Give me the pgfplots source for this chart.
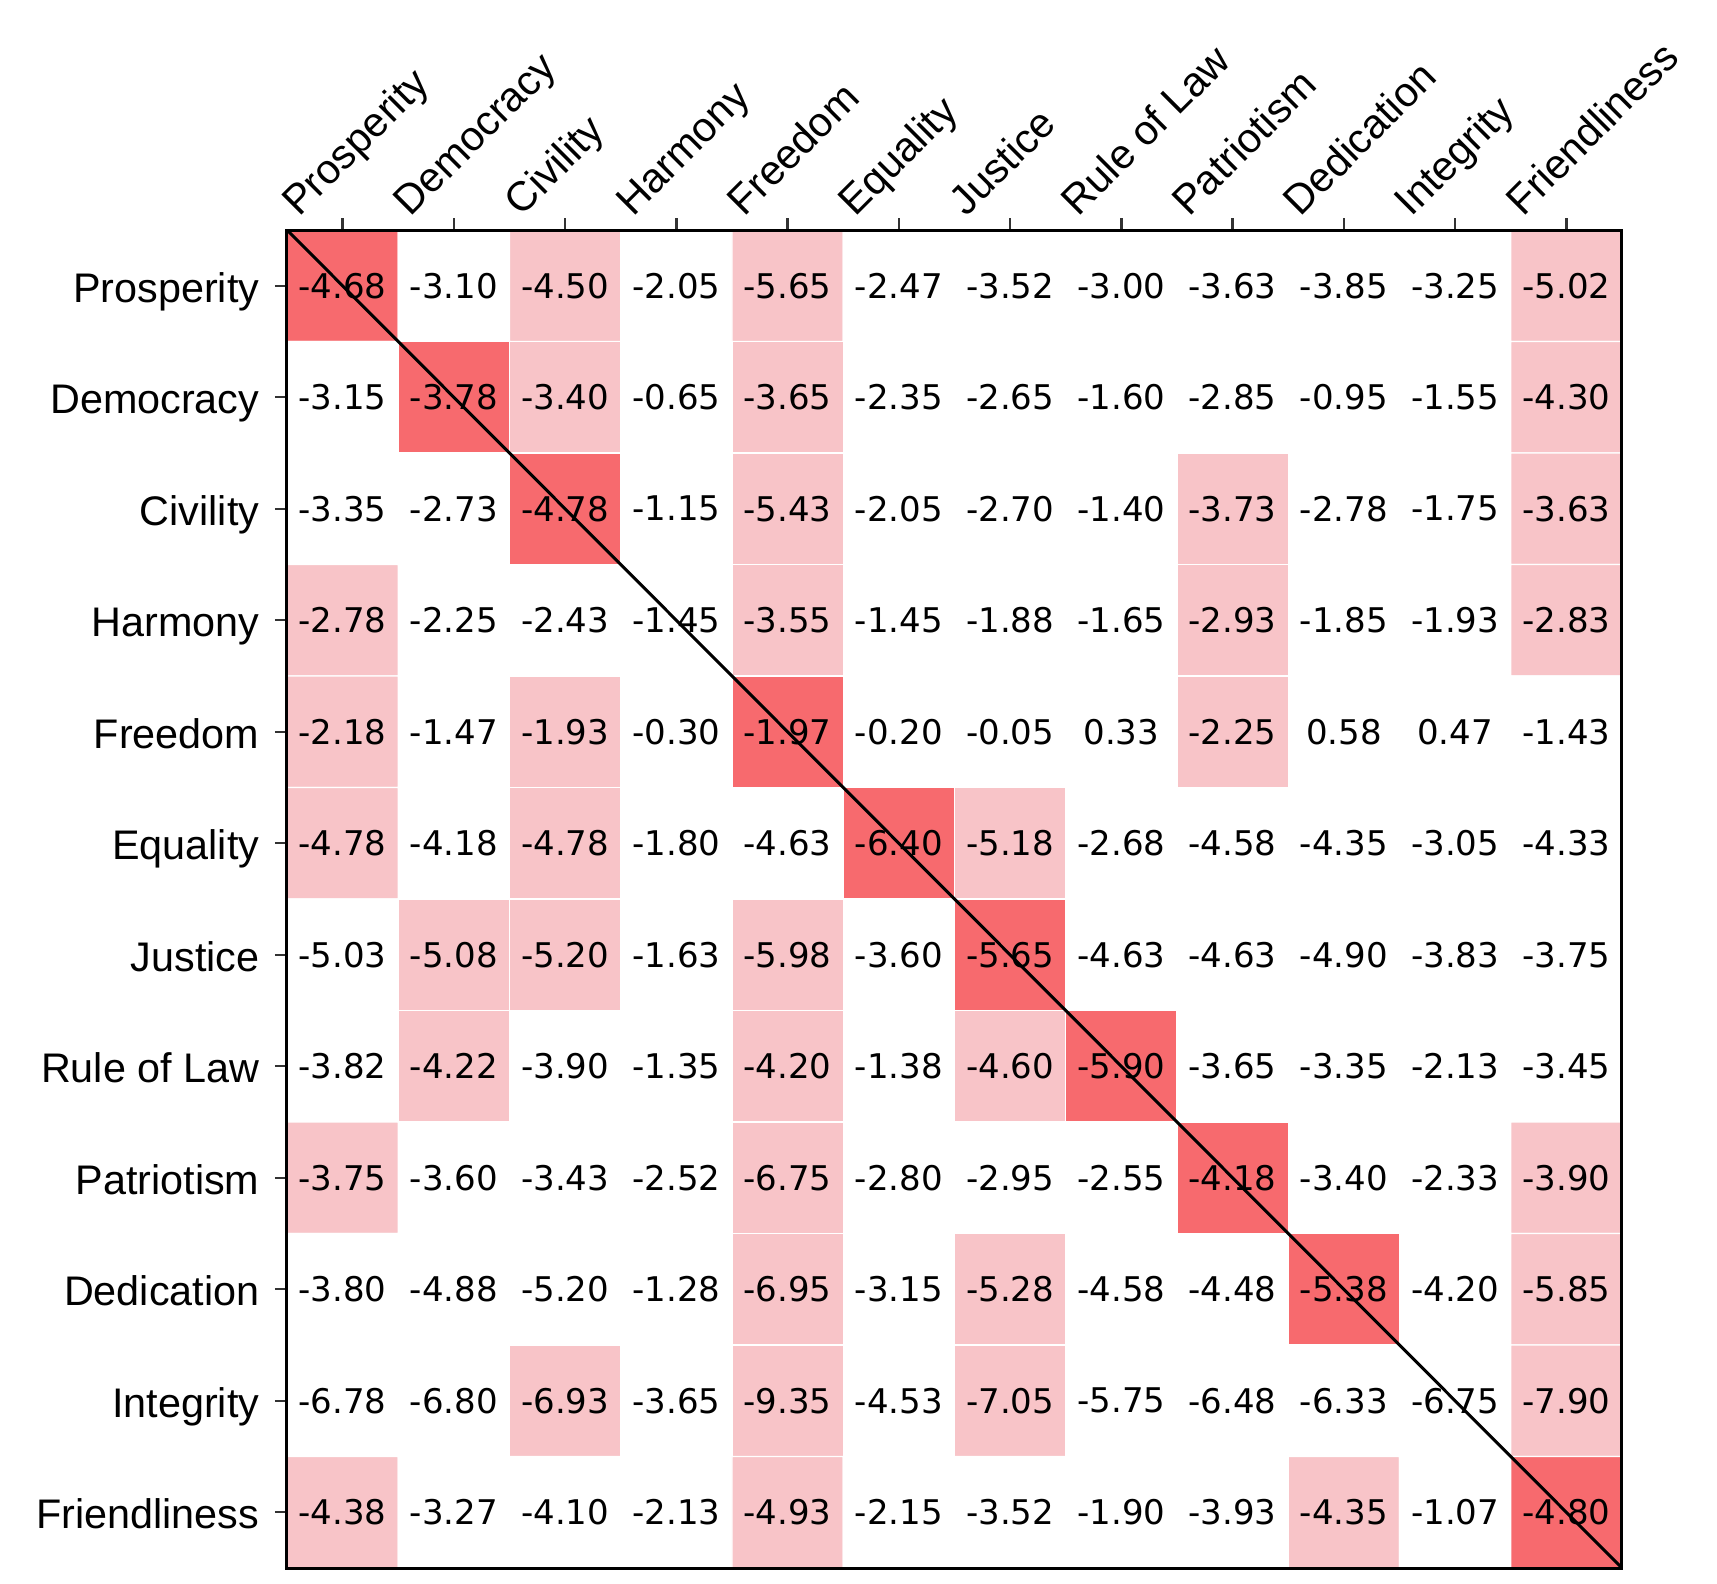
\documentclass[border=0pt]{standalone}
\usepackage{pgfplots}
\usepackage{pgfplotstable}
\pgfplotsset{compat=1.18}
\usepackage{fontspec}
\setmainfont{Liberation Sans}
\newfontfamily\valfont{DejaVu Sans}
\definecolor{hmred}{RGB}{247,106,110}
\definecolor{hmpink}{RGB}{248,196,200}

\pgfplotstableread{
x y c v
0 0 2 -4.68
1 0 0 -3.10
2 0 1 -4.50
3 0 0 -2.05
4 0 1 -5.65
5 0 0 -2.47
6 0 0 -3.52
7 0 0 -3.00
8 0 0 -3.63
9 0 0 -3.85
10 0 0 -3.25
11 0 1 -5.02
0 1 0 -3.15
1 1 2 -3.78
2 1 1 -3.40
3 1 0 -0.65
4 1 1 -3.65
5 1 0 -2.35
6 1 0 -2.65
7 1 0 -1.60
8 1 0 -2.85
9 1 0 -0.95
10 1 0 -1.55
11 1 1 -4.30
0 2 0 -3.35
1 2 0 -2.73
2 2 2 -4.78
3 2 0 -1.15
4 2 1 -5.43
5 2 0 -2.05
6 2 0 -2.70
7 2 0 -1.40
8 2 1 -3.73
9 2 0 -2.78
10 2 0 -1.75
11 2 1 -3.63
0 3 1 -2.78
1 3 0 -2.25
2 3 0 -2.43
3 3 0 -1.45
4 3 1 -3.55
5 3 0 -1.45
6 3 0 -1.88
7 3 0 -1.65
8 3 1 -2.93
9 3 0 -1.85
10 3 0 -1.93
11 3 1 -2.83
0 4 1 -2.18
1 4 0 -1.47
2 4 1 -1.93
3 4 0 -0.30
4 4 2 -1.97
5 4 0 -0.20
6 4 0 -0.05
7 4 0 0.33
8 4 1 -2.25
9 4 0 0.58
10 4 0 0.47
11 4 0 -1.43
0 5 1 -4.78
1 5 0 -4.18
2 5 1 -4.78
3 5 0 -1.80
4 5 0 -4.63
5 5 2 -6.40
6 5 1 -5.18
7 5 0 -2.68
8 5 0 -4.58
9 5 0 -4.35
10 5 0 -3.05
11 5 0 -4.33
0 6 0 -5.03
1 6 1 -5.08
2 6 1 -5.20
3 6 0 -1.63
4 6 1 -5.98
5 6 0 -3.60
6 6 2 -5.65
7 6 0 -4.63
8 6 0 -4.63
9 6 0 -4.90
10 6 0 -3.83
11 6 0 -3.75
0 7 0 -3.82
1 7 1 -4.22
2 7 0 -3.90
3 7 0 -1.35
4 7 1 -4.20
5 7 0 -1.38
6 7 1 -4.60
7 7 2 -5.90
8 7 0 -3.65
9 7 0 -3.35
10 7 0 -2.13
11 7 0 -3.45
0 8 1 -3.75
1 8 0 -3.60
2 8 0 -3.43
3 8 0 -2.52
4 8 1 -6.75
5 8 0 -2.80
6 8 0 -2.95
7 8 0 -2.55
8 8 2 -4.18
9 8 0 -3.40
10 8 0 -2.33
11 8 1 -3.90
0 9 0 -3.80
1 9 0 -4.88
2 9 0 -5.20
3 9 0 -1.28
4 9 1 -6.95
5 9 0 -3.15
6 9 1 -5.28
7 9 0 -4.58
8 9 0 -4.48
9 9 2 -5.38
10 9 0 -4.20
11 9 1 -5.85
0 10 0 -6.78
1 10 0 -6.80
2 10 1 -6.93
3 10 0 -3.65
4 10 1 -9.35
5 10 0 -4.53
6 10 1 -7.05
7 10 0 -5.75
8 10 0 -6.48
9 10 0 -6.33
10 10 0 -6.75
11 10 1 -7.90
0 11 1 -4.38
1 11 0 -3.27
2 11 0 -4.10
3 11 0 -2.13
4 11 1 -4.93
5 11 0 -2.15
6 11 0 -3.52
7 11 0 -1.90
8 11 0 -3.93
9 11 1 -4.35
10 11 0 -1.07
11 11 2 -4.80
}\hm

\begin{document}
\begin{tikzpicture}
\begin{axis}[
  scale only axis, width=400.5pt, height=401.4pt,
  at={(0pt,0pt)}, anchor=south west,
  xmin=-0.5, xmax=11.5, ymin=-0.5, ymax=11.5, y dir=reverse,
  xtick={0,...,11}, ytick={0,...,11},
  xticklabels={Prosperity,Democracy,Civility,Harmony,Freedom,Equality,Justice,Rule of Law,Patriotism,Dedication,Integrity,Friendliness},
  yticklabels={Prosperity,Democracy,Civility,Harmony,Freedom,Equality,Justice,Rule of Law,Patriotism,Dedication,Integrity,Friendliness},
  xtick pos=right, xticklabel pos=right,
  ytick pos=left, yticklabel pos=left,
  tick align=outside, major tick length=3.6pt,
  axis line style={line width=0.9pt, black},
  every tick/.style={black!80, line width=0.7pt},
  tick label style={font=\fontsize{12.4pt}{14pt}\selectfont},
  xticklabel style={inner sep=0pt, xshift=-13.1pt, anchor=base west, rotate=45},
  yticklabel style={inner sep=0pt, anchor=base east, xshift=-4.5pt, yshift=-4.9pt},
  axis on top,
  colormap={hm}{rgb255=(255,255,255) rgb255=(248,196,200) rgb255=(247,106,110)},
  point meta min=0, point meta max=2,
]
\addplot[matrix plot*, mesh/cols=12, shader=faceted, faceted color=white, line width=0.4pt, point meta=explicit]
  table[x=x, y=y, meta=c]{\hm};
\addplot[only marks, mark=none, point meta=explicit symbolic,
  nodes near coords, nodes near coords align=center,
  every node near coord/.style={font=\valfont\fontsize{10.2pt}{12pt}\selectfont, text=black, anchor=center, inner sep=0pt}]
  table[x=x, y=y, meta=v]{\hm};
\addplot[black, line width=0.9pt, no marks] coordinates {(-0.5,-0.5) (11.5,11.5)};
\end{axis}
\pgfresetboundingbox
\path[use as bounding box] (-86.1pt,-4.5pt) rectangle (429pt,470.4pt);
\end{tikzpicture}
\end{document}
